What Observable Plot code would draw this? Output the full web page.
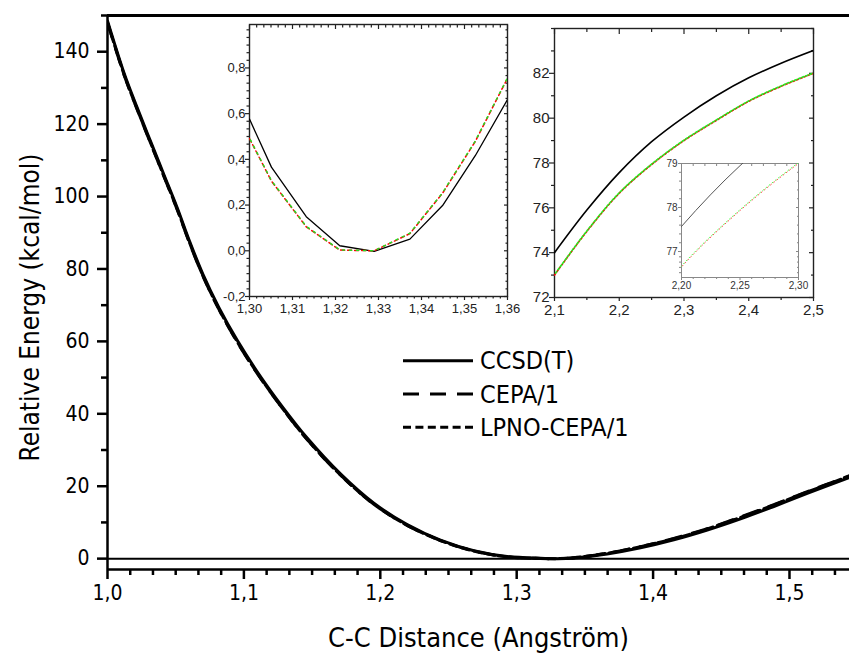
<!DOCTYPE html>
<html>
<head>
<meta charset="utf-8">
<script src="https://cdn.jsdelivr.net/npm/d3@7"></script>
<script src="https://cdn.jsdelivr.net/npm/@observablehq/plot@0.6"></script>
<style>
html, body { margin: 0; padding: 0; background: #fff; }
#wrap { position: relative; width: 849px; height: 653px; overflow: hidden; background: #fff; }
#wrap svg { position: absolute; overflow: visible; }
</style>
</head>
<body>
<div id="wrap"></div>
<script>
// ---------- data ----------
// main chart: C-C distance (Å) vs relative energy (kcal/mol)
const mainX     = [1.000, 1.0125, 1.0218, 1.0315, 1.0413, 1.0511, 1.0596, 1.0699, 1.0816, 1.0951, 1.1109, 1.1281, 1.1464, 1.1708, 1.1953, 1.2197, 1.2441, 1.2686, 1.2930, 1.3174, 1.3300, 1.3420, 1.3663, 1.3908, 1.4152, 1.4397, 1.4641, 1.4885, 1.5130, 1.5440];
const mainCCSDT = [148.5, 133.7, 124.5, 115.3, 106.1, 96.9, 88.2, 78.6, 69.4, 60.3, 51.0, 42.0, 33.3, 23.4, 15.3, 9.4, 5.1, 2.2, 0.6, 0.1, 0.0, 0.2, 1.3, 3.0, 5.2, 7.9, 11.0, 14.4, 18.0, 22.4];
const mainCEPA  = [148.0, 133.2, 124.0, 114.8, 105.6, 96.4, 87.7, 78.1, 68.9, 59.8, 50.5, 41.6, 32.9, 23.1, 15.0, 9.2, 5.0, 2.1, 0.5, 0.05, 0.0, 0.25, 1.5, 3.3, 5.6, 8.3, 11.5, 14.9, 18.5, 22.9];
const mainLPNO  = [148.1, 133.3, 124.1, 114.9, 105.7, 96.5, 87.8, 78.2, 69.0, 59.9, 50.6, 41.6, 32.9, 23.1, 15.0, 9.2, 5.0, 2.1, 0.5, 0.05, 0.0, 0.25, 1.5, 3.3, 5.5, 8.2, 11.4, 14.8, 18.4, 22.8];
const mainXTicks = [1.0, 1.1, 1.2, 1.3, 1.4, 1.5];
const mainYTicks = [0, 20, 40, 60, 80, 100, 120, 140];
const mainYMinor = [10, 30, 50, 70, 90, 110, 130, 150];

// left inset (minimum region)
const leftX     = [1.300, 1.3051, 1.3132, 1.3210, 1.3290, 1.3373, 1.3449, 1.3525, 1.360];
const leftCCSDT = [0.576, 0.366, 0.149, 0.022, -0.003, 0.051, 0.198, 0.416, 0.662];
const leftCEPA  = [0.491, 0.305, 0.105, 0.003, 0.000, 0.075, 0.252, 0.478, 0.755];
const leftLPNO  = [0.493, 0.307, 0.107, 0.004, 0.000, 0.077, 0.254, 0.480, 0.757];
const leftXTicks = [1.30, 1.31, 1.32, 1.33, 1.34, 1.35, 1.36];
const leftYTicks = [-0.2, 0.0, 0.2, 0.4, 0.6, 0.8];

// right inset (long distance region)
const rightX     = [2.10, 2.15, 2.20, 2.25, 2.30, 2.35, 2.40, 2.45, 2.50];
const rightCCSDT = [74.0, 75.9, 77.57, 78.95, 80.05, 81.0, 81.8, 82.45, 83.02];
const rightCEPA  = [73.0, 74.95, 76.65, 77.93, 79.0, 79.9, 80.75, 81.42, 82.0];
const rightLPNO  = [73.02, 74.97, 76.67, 77.95, 79.02, 79.92, 80.77, 81.44, 82.02];
const rightXTicks = [2.1, 2.2, 2.3, 2.4, 2.5];
const rightXMinor = [2.15, 2.25, 2.35, 2.45];
const rightYTicks = [72, 74, 76, 78, 80, 82];
const rightYMinor = [73, 75, 77, 79, 81, 83, 84];

// inner inset
const innerXTicks = [2.20, 2.25, 2.30];
const innerYTicks = [77, 78, 79];

// legend
const legendNames = ["CCSD(T)", "CEPA/1", "LPNO-CEPA/1"];
const legendDash  = ["none", "16,11", "8,4.4"];

// ---------- helpers ----------
const FONT = '"Liberation Sans Narrow", "DejaVu Sans Condensed", "Arial Narrow", sans-serif';
const FONT_INSET = '"Liberation Sans", Arial, sans-serif';
const comma = f => d => d3.format(f)(d).replace(".", ",").replace("\u2212", "-");
const rows = (xs, ys) => xs.map((x, i) => ({x, y: ys[i]}));
const blank = () => "";
const minorBetween = (ticks, n) => {
  const out = [];
  for (let i = 0; i < ticks.length - 1; i++) {
    const step = (ticks[i + 1] - ticks[i]) / n;
    for (let k = 1; k < n; k++) out.push(ticks[i] + k * step);
  }
  return out;
};
const wrap = document.getElementById("wrap");
function place(svg, left, top) {
  svg.style.left = left + "px";
  svg.style.top = top + "px";
  wrap.appendChild(svg);
}

// ---------- main chart ----------
const mainXMinor = minorBetween([...mainXTicks, 1.6], 6).filter(v => v < 1.545);
const main = Plot.plot({
  width: 849, height: 653,
  marginLeft: 107, marginRight: 0, marginTop: 15, marginBottom: 84,
  style: {fontFamily: FONT, fontSize: "21px", overflow: "visible", background: "transparent", color: "#000"},
  x: {domain: [1.0, 1.544]},
  y: {domain: [-3, 150]},
  marks: [
    Plot.axisX({ticks: mainXMinor, tickSize: 6, strokeWidth: 2.5, tickFormat: blank, label: null}),
    Plot.axisX({ticks: mainXTicks, tickSize: 10, strokeWidth: 2.5, tickPadding: 6, tickFormat: comma(".1f"), label: null}),
    Plot.axisY({ticks: mainYMinor, tickSize: 6, strokeWidth: 2.5, tickFormat: blank, label: null}),
    Plot.axisY({ticks: mainYTicks, tickSize: 10, strokeWidth: 2.5, tickPadding: 8, tickFormat: d => String(d), label: null}),
    Plot.ruleY([0], {strokeWidth: 2}),
    Plot.ruleX([1.0], {strokeWidth: 2.5}),
    Plot.ruleY([-3], {strokeWidth: 2.5}),
    Plot.ruleY([150], {strokeWidth: 3}),
    Plot.line(rows(mainX, mainLPNO), {x: "x", y: "y", curve: "catmull-rom", strokeWidth: 3, strokeDasharray: "8,4.4", clip: true}),
    Plot.line(rows(mainX, mainCEPA), {x: "x", y: "y", curve: "catmull-rom", strokeWidth: 3, strokeDasharray: "16,11", clip: true}),
    Plot.line(rows(mainX, mainCCSDT), {x: "x", y: "y", curve: "catmull-rom", strokeWidth: 3, clip: true}),
    Plot.text(["Relative Energy (kcal/mol)"], {text: d => d, frameAnchor: "left", textAnchor: "middle", lineAnchor: "middle", dx: -77, dy: 15, rotate: -90, fontSize: 26}),
    Plot.text(["C-C Distance (Angstr\u00f6m)"], {text: d => d, frameAnchor: "bottom", textAnchor: "middle", lineAnchor: "middle", dy: 69, fontSize: 27})
  ]
});
place(main, 0, 0);

// ---------- left inset ----------
const leftXMinor = minorBetween(leftXTicks, 6);
const leftYMinor = minorBetween([...leftYTicks, 1.0], 6).filter(v => v < 0.99);
const leftPlot = Plot.plot({
  width: 322, height: 310,
  marginLeft: 44, marginRight: 20, marginTop: 10, marginBottom: 28,
  style: {fontFamily: FONT_INSET, fontSize: "13px", overflow: "visible", background: "transparent", color: "#222"},
  x: {domain: [1.30, 1.36]},
  y: {domain: [-0.2, 0.99]},
  marks: [
    Plot.axisX({ticks: leftXMinor, tickSize: 2.5, strokeWidth: 1.2, tickFormat: blank, label: null}),
    Plot.axisX({ticks: leftXTicks, tickSize: 4, strokeWidth: 1.2, tickPadding: 3, tickFormat: comma(".2f"), label: null}),
    Plot.axisX({anchor: "top", ticks: leftXMinor, tickSize: 2.5, dy: 2.5, strokeWidth: 1.2, tickFormat: blank, label: null}),
    Plot.axisX({anchor: "top", ticks: leftXTicks, tickSize: 4, dy: 4, strokeWidth: 1.2, tickFormat: blank, label: null}),
    Plot.axisY({ticks: leftYMinor, tickSize: 2.5, strokeWidth: 1.2, tickFormat: blank, label: null}),
    Plot.axisY({ticks: leftYTicks, tickSize: 4, strokeWidth: 1.2, tickPadding: 0, tickFormat: comma(".1f"), label: null}),
    Plot.axisY({anchor: "right", ticks: leftYMinor, tickSize: 2.5, dx: -2.5, strokeWidth: 1.2, tickFormat: blank, label: null}),
    Plot.axisY({anchor: "right", ticks: leftYTicks, tickSize: 4, dx: -4, strokeWidth: 1.2, tickFormat: blank, label: null}),
    Plot.frame({stroke: "#222", strokeWidth: 1.4}),
    Plot.line(rows(leftX, leftCCSDT), {x: "x", y: "y", stroke: "#000", strokeWidth: 1.3, clip: true}),
    Plot.line(rows(leftX, leftCEPA), {x: "x", y: "y", stroke: "#ff0000", strokeWidth: 1.5, strokeDasharray: "4,3", clip: true}),
    Plot.line(rows(leftX, leftLPNO), {x: "x", y: "y", stroke: "#22dd22", strokeWidth: 1.5, strokeDasharray: "2,5", strokeDashoffset: 5, clip: true})
  ]
});
place(leftPlot, 205, 14);

// ---------- right inset ----------
const rightPlot = Plot.plot({
  width: 319, height: 307,
  marginLeft: 40, marginRight: 20, marginTop: 10, marginBottom: 28,
  style: {fontFamily: FONT_INSET, fontSize: "15px", overflow: "visible", background: "transparent", color: "#222"},
  x: {domain: [2.1, 2.5]},
  y: {domain: [72, 84]},
  marks: [
    Plot.axisX({ticks: rightXMinor, tickSize: 3, strokeWidth: 1.2, tickFormat: blank, label: null}),
    Plot.axisX({ticks: rightXTicks, tickSize: 4, strokeWidth: 1.2, tickPadding: 3, tickFormat: comma(".1f"), label: null}),
    Plot.axisX({anchor: "top", ticks: rightXMinor, tickSize: 3, dy: 3, strokeWidth: 1.2, tickFormat: blank, label: null}),
    Plot.axisX({anchor: "top", ticks: rightXTicks, tickSize: 5, dy: 5, strokeWidth: 1.2, tickFormat: blank, label: null}),
    Plot.axisY({ticks: rightYMinor, tickSize: 3, strokeWidth: 1.2, tickFormat: blank, label: null}),
    Plot.axisY({ticks: rightYTicks, tickSize: 5, strokeWidth: 1.2, tickPadding: 0, tickFormat: d => String(d), label: null}),
    Plot.axisY({anchor: "right", ticks: rightYMinor, tickSize: 3, dx: -3, strokeWidth: 1.2, tickFormat: blank, label: null}),
    Plot.axisY({anchor: "right", ticks: rightYTicks, tickSize: 5, dx: -5, strokeWidth: 1.2, tickFormat: blank, label: null}),
    Plot.frame({stroke: "#222", strokeWidth: 1.4}),
    Plot.line(rows(rightX, rightCCSDT), {x: "x", y: "y", curve: "catmull-rom", stroke: "#000", strokeWidth: 1.6, clip: true}),
    Plot.line(rows(rightX, rightCEPA), {x: "x", y: "y", curve: "catmull-rom", stroke: "#ff0000", strokeWidth: 1.6, strokeDasharray: "2,2", clip: true}),
    Plot.line(rows(rightX, rightLPNO), {x: "x", y: "y", curve: "catmull-rom", stroke: "#22ee22", strokeWidth: 1.6, strokeDasharray: "2,2", strokeDashoffset: 2, clip: true})
  ]
});
place(rightPlot, 514, 18);

// ---------- inner inset ----------
const innerXMinor = minorBetween(innerXTicks, 5);
const innerYMinor = minorBetween([76.4, ...innerYTicks], 5).filter(v => v > 76.42 && v < 76.99 || v > 77.01);
const innerPlot = Plot.plot({
  width: 145, height: 138,
  marginLeft: 18, marginRight: 10, marginTop: 6, marginBottom: 18,
  style: {fontFamily: FONT_INSET, fontSize: "10px", overflow: "visible", background: "transparent", color: "#666"},
  x: {domain: [2.20, 2.30]},
  y: {domain: [76.41, 79.0]},
  marks: [
    Plot.axisX({ticks: innerXMinor, tickSize: 2, strokeWidth: 0.8, tickFormat: blank, label: null}),
    Plot.axisX({ticks: innerXTicks, tickSize: 3, strokeWidth: 0.8, tickPadding: 1, tickFormat: comma(".2f"), fill: "#333", label: null}),
    Plot.axisX({anchor: "top", ticks: innerXMinor, tickSize: 2, dy: 2, strokeWidth: 0.8, tickFormat: blank, label: null}),
    Plot.axisY({ticks: innerYMinor, tickSize: 2, strokeWidth: 0.8, tickFormat: blank, label: null}),
    Plot.axisY({ticks: innerYTicks, tickSize: 3, strokeWidth: 0.8, tickPadding: 1, tickFormat: d => String(d), fill: "#333", label: null}),
    Plot.axisY({anchor: "right", ticks: innerYMinor, tickSize: 2, dx: -2, strokeWidth: 0.8, tickFormat: blank, label: null}),
    Plot.axisY({anchor: "right", ticks: innerYTicks, tickSize: 3, dx: -3, strokeWidth: 0.8, tickFormat: blank, label: null}),
    Plot.frame({stroke: "#888", strokeWidth: 1}),
    Plot.line(rows(rightX, rightCCSDT), {x: "x", y: "y", curve: "catmull-rom", stroke: "#555", strokeWidth: 1, clip: true}),
    Plot.line(rows(rightX, rightCEPA), {x: "x", y: "y", curve: "catmull-rom", stroke: "#ff5050", strokeWidth: 1, strokeDasharray: "1,3", clip: true}),
    Plot.line(rows(rightX, rightLPNO), {x: "x", y: "y", curve: "catmull-rom", stroke: "#50ff50", strokeWidth: 1, strokeDasharray: "1,3", strokeDashoffset: 2, clip: true})
  ]
});
place(innerPlot, 663, 157);

// ---------- legend ----------
const leg = d3.create("svg").attr("width", 300).attr("height", 110);
legendNames.forEach((name, i) => {
  const cy = 20.7 + i * 33.3;
  leg.append("line").attr("x1", 23).attr("x2", 93).attr("y1", cy).attr("y2", cy)
    .attr("stroke", "#000").attr("stroke-width", 3)
    .attr("stroke-dasharray", legendDash[i]);
  leg.append("text").attr("x", 100).attr("y", cy).attr("dy", "0.35em")
    .attr("font-family", FONT).attr("font-size", 25).attr("fill", "#000")
    .text(name);
});
place(leg.node(), 380, 340);
</script>
</body>
</html>
